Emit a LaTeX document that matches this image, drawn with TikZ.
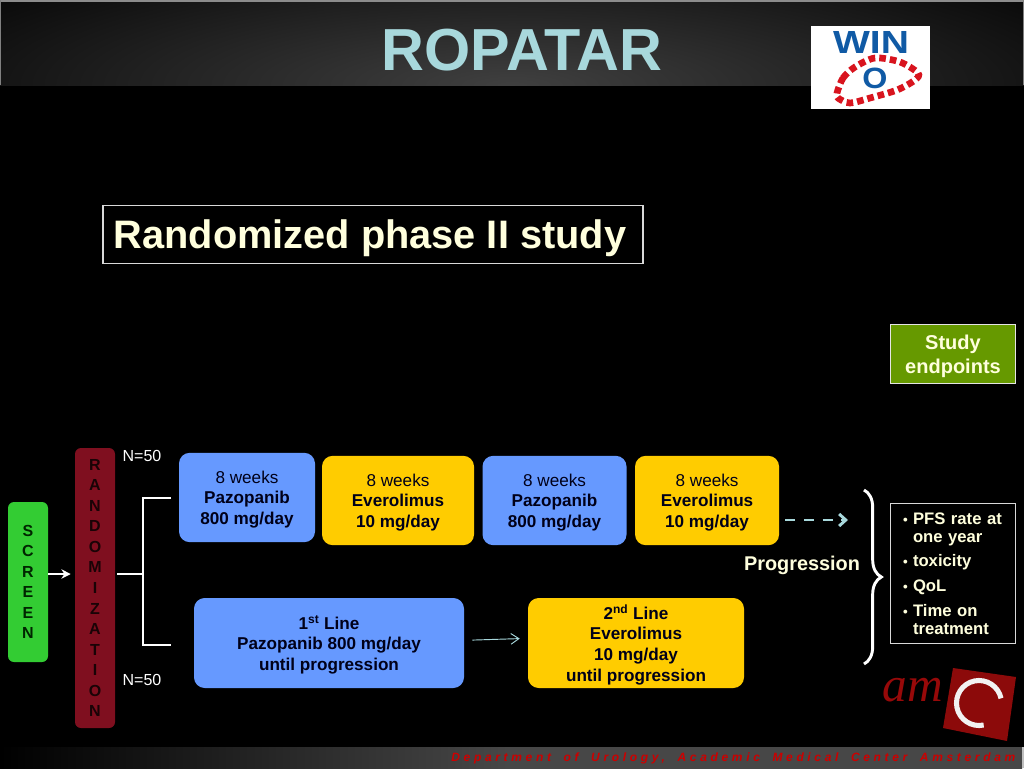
\documentclass[tikz,border=0pt]{standalone}
\usepackage{fontspec}
\setmainfont{Liberation Sans}
\newfontfamily\amfont{Liberation Serif}
\newfontfamily\footfont[LetterSpace=30.5,WordSpace=1.8]{Liberation Sans}
\usepackage{xcolor}
\usetikzlibrary{positioning, arrows.meta, decorations.pathreplacing}
\definecolor{armblue}{HTML}{6699FF}
\definecolor{armyellow}{HTML}{FFCC00}
\definecolor{screengreen}{HTML}{33CC33}
\definecolor{randmaroon}{HTML}{7F0F1F}
\definecolor{endgreen}{HTML}{669900}
\definecolor{cream}{HTML}{FFFFDD}
\definecolor{paleteal}{HTML}{A8D8DC}
\definecolor{winblue}{HTML}{105AA5}
\definecolor{winred}{HTML}{D8141E}
\definecolor{amcred}{HTML}{8C0A0A}
\newcommand{\ptbullet}{\leavevmode\llap{\scalebox{0.8}{\textbullet}\hspace{4pt}}}
\tikzset{
  armbox/.style={rectangle, rounded corners=8pt, text=black!90!blue, align=center, text depth=0pt, font=\fontsize{12.85}{15.4}\selectfont},
  stackbox/.style={rectangle, rounded corners=4.5pt, minimum width=30pt, text=black, align=center, text depth=0pt, font=\fontsize{12}{15.4}\selectfont\bfseries},
  outlinebox/.style={rectangle, draw=white!85!black, line width=0.8pt}
}
\begin{document}
\begin{tikzpicture}[x=0.75pt, y=-0.75pt, node distance=6pt]
        \useasboundingbox (0,0) rectangle (1024,768);
        \fill[black] (0,0) rectangle (1024,768);
        % Header and footer bands
        \begin{scope}
            \clip (0,0) rectangle (1024,85);
            \fill[inner color=black!75, outer color=black] (512,85) ellipse (760 and 170);
        \end{scope}
        \fill[black!45] (0,0) rectangle (1024,2);
        \draw[black!50, line width=0.6pt] (0.5,0) -- (0.5,85) (1023.5,0) -- (1023.5,85);
        \fill[left color=black, right color=black!72, middle color=black!72] (0,747) rectangle (1022,768);
        \fill[black!25] (1022,747) rectangle (1024,768);
        \node[text=paleteal, font=\fontsize{44.5}{50}\selectfont\bfseries] (title) at (522,50) {ROPATAR};
        \node[text=red!80!black, font=\fontsize{9}{11}\footfont\bfseries\itshape, anchor=east] (dept) at (1020,758) {Department of Urology, Academic Medical Center Amsterdam};
        % WIN logo
        \fill[white] (811,26) rectangle (930,109);
        \node[text=winblue, font=\fontsize{24}{26}\selectfont\bfseries, xscale=1.22, transform shape] (win) at (871,42) {WIN};
        \node[text=winblue, font=\fontsize{22}{24}\selectfont\bfseries, xscale=1.1, transform shape] (wino) at (875,78) {O};
        \draw[winred, line width=5pt, dash pattern=on 5pt off 3pt] plot[smooth cycle] coordinates {(837,93) (843,78) (855,67) (875,58) (900,62) (918,73) (915,80) (897,90) (870,98) (850,103) (838,98)};
        % Heading and endpoint boxes
        \node[outlinebox, minimum width=405pt, minimum height=44pt, text=cream, text depth=0pt, font=\fontsize{29.8}{34}\selectfont\bfseries] (heading) at (373,234.5) {Randomized phase II study\kern 4.5pt};
        \node[rectangle, fill=endgreen, draw=white!90!black, line width=1pt, minimum width=94pt, minimum height=44pt, text=cream, align=center, text depth=0pt, font=\fontsize{15}{18.2}\selectfont\bfseries] (study) at (953,354) {Study\\endpoints};
        % Trial arms
        \node[stackbox, fill=screengreen, minimum height=120pt, text=black!85!green] (screen) at (28,582) {S\\C\\R\\E\\E\\N};
        \node[stackbox, fill=randmaroon, minimum height=210pt, text=black!80!randmaroon] (random) at (95,588) {R\\A\\N\\D\\O\\M\\I\\Z\\A\\T\\I\\O\\N};
        \node[armbox, fill=armblue, minimum width=102pt, minimum height=67pt] (pazoa) at (247,497.5) {8 weeks\\\textbf{Pazopanib}\\\textbf{800 mg/day}};
        \node[armbox, fill=armyellow, minimum width=114pt, minimum height=67pt] (evera) at (398,500.5) {8 weeks\\\textbf{Everolimus}\\\textbf{10 mg/day}};
        \node[armbox, fill=armblue, minimum width=108pt, minimum height=67pt, right=6pt of evera] (pazob) {8 weeks\\\textbf{Pazopanib}\\\textbf{800 mg/day}};
        \node[armbox, fill=armyellow, minimum width=108pt, minimum height=67pt, right=6pt of pazob] (everb) {8 weeks\\\textbf{Everolimus}\\\textbf{10 mg/day}};
        \node[armbox, fill=armblue, minimum width=202.5pt, minimum height=67.5pt, font=\fontsize{12.85}{15.4}\selectfont\bfseries] (first) at (329,643) {1\textsuperscript{st} Line\\Pazopanib 800 mg/day\\until progression};
        \node[armbox, fill=armyellow, minimum width=162pt, minimum height=67.5pt, font=\fontsize{12.85}{15.4}\selectfont\bfseries] (second) at (636,643) {2\textsuperscript{nd} Line\\Everolimus\\10 mg/day\\until progression};
        % Side labels
        \node[text=white, font=\fontsize{12}{14}\selectfont] (nup) at (142,456) {N=50};
        \node[text=white, font=\fontsize{12}{14}\selectfont] (ndown) at (142,680) {N=50};
        \node[text=cream, font=\fontsize{14.9}{18}\selectfont\bfseries] (prog) at (802,565.5) {Progression};
        \node[outlinebox, minimum width=94pt, minimum height=105pt, text width=78pt, inner sep=0pt, text=cream, align=left, font=\fontsize{12.5}{13.5}\selectfont\bfseries] (list) at (953,573.5) {\leftskip=9pt\ptbullet PFS rate at\\one year\\[4.9pt]\ptbullet toxicity\\[4.9pt]\ptbullet QoL\\[4.9pt]\ptbullet Time on\\treatment\par};
        % Arrows
        \coordinate (forkin) at (117,574);
        \coordinate (forkmid) at (143,574);
        \coordinate (forktop) at (171,498);
        \coordinate (forkbot) at (171,645);
        \coordinate (progend) at (848,520);
        \coordinate (bracetop) at (864,490);
        \coordinate (bracebot) at (864,664);
        \draw[white, line width=2pt, -{Stealth[length=7pt,width=7pt]}, shorten >=3pt] (screen.east |- forkin) -- (random.west |- forkin);
        \draw[white, line width=2.2pt] (forkin) -- (forkmid);
        \draw[white, line width=2.2pt] (forktop) -| (forkmid) |- (forkbot);
        \draw[paleteal, line width=0.7pt, -{Straight Barb[length=6pt,width=8pt]}, shorten <=6pt, shorten >=6pt] ([yshift=2pt]first.east) -- ([yshift=3.5pt]second.west);
        \draw[paleteal, line width=2.2pt, dash pattern=on 7.5pt off 6.5pt, -{Straight Barb[length=5pt,width=9pt]}, shorten <=4.5pt] (everb.east |- progend) -- (progend);
        \draw[white, line width=2.2pt, decorate, decoration={brace, amplitude=13pt}] (bracetop) -- (bracebot);
        % AMC logo
        \fill[amcred] (953,668) -- (1016,677) -- (1007,741) -- (943,728) -- cycle;
        \draw[white!95!black, line width=3.8pt] (979,703) ++(78:22.5) arc[start angle=78, end angle=348, radius=22.5];
        \node[text=amcred!90!red, font=\fontsize{37}{40}\amfont\itshape] (am) at (913,690) {am};
    \end{tikzpicture}
\end{document}
